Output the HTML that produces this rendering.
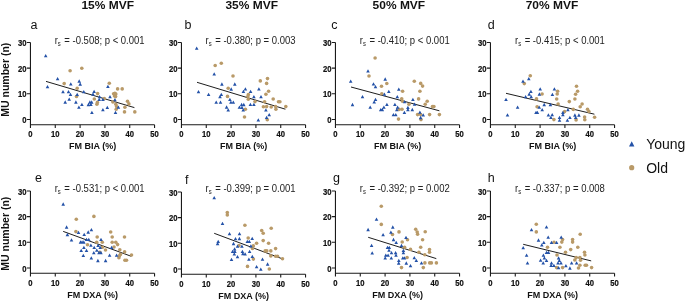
<!DOCTYPE html>
<html><head><meta charset="utf-8"><style>
html,body{margin:0;padding:0;background:#fff;}
body{width:685px;height:301px;overflow:hidden;}
svg{display:block;filter:blur(0.25px);}
text{font-family:"Liberation Sans",sans-serif;}
.b{font-weight:bold;}
</style></head><body>
<svg width="685" height="301" viewBox="0 0 685 301">
<rect width="685" height="301" fill="#fff"/>

<text transform="translate(81.40 9.2) scale(1.11 1)" font-size="10.8" class="b" fill="#111">15% MVF</text>
<text transform="translate(225.40 9.2) scale(1.11 1)" font-size="10.8" class="b" fill="#111">35% MVF</text>
<text transform="translate(372.60 9.2) scale(1.11 1)" font-size="10.8" class="b" fill="#111">50% MVF</text>
<text transform="translate(525.70 9.2) scale(1.11 1)" font-size="10.8" class="b" fill="#111">70% MVF</text>
<text transform="translate(9.3 79.7) rotate(-90) scale(0.905 1)" text-anchor="middle" font-size="11.6" class="b" fill="#111">MU number (n)</text>
<text transform="translate(9.3 233.7) rotate(-90) scale(0.905 1)" text-anchor="middle" font-size="11.6" class="b" fill="#111">MU number (n)</text>
<path d="M30.45 42.45V128.0M30.45 124.7H154.55" stroke="#1a1a1a" stroke-width="1.1" fill="none"/>
<path d="M26.85 42.45H30.45M26.85 68.13H30.45M26.85 93.81H30.45M26.85 119.49H30.45M55.27 124.7V128.00M80.09 124.7V128.00M104.91 124.7V128.00M129.73 124.7V128.00M154.55 124.7V128.00" stroke="#1a1a1a" stroke-width="1.1" fill="none"/>
<text transform="translate(26.55 46.05) scale(0.91 1)" font-size="8.4" class="b" stroke="#111" stroke-width="0.2" text-anchor="end" fill="#111">30</text>
<text transform="translate(26.55 71.73) scale(0.91 1)" font-size="8.4" class="b" stroke="#111" stroke-width="0.2" text-anchor="end" fill="#111">20</text>
<text transform="translate(26.55 97.41) scale(0.91 1)" font-size="8.4" class="b" stroke="#111" stroke-width="0.2" text-anchor="end" fill="#111">10</text>
<text transform="translate(26.55 123.09) scale(0.91 1)" font-size="8.4" class="b" stroke="#111" stroke-width="0.2" text-anchor="end" fill="#111">0</text>
<text transform="translate(30.45 137.00) scale(0.91 1)" font-size="8.4" class="b" stroke="#111" stroke-width="0.2" text-anchor="middle" fill="#111">0</text>
<text transform="translate(55.27 137.00) scale(0.91 1)" font-size="8.4" class="b" stroke="#111" stroke-width="0.2" text-anchor="middle" fill="#111">10</text>
<text transform="translate(80.09 137.00) scale(0.91 1)" font-size="8.4" class="b" stroke="#111" stroke-width="0.2" text-anchor="middle" fill="#111">20</text>
<text transform="translate(104.91 137.00) scale(0.91 1)" font-size="8.4" class="b" stroke="#111" stroke-width="0.2" text-anchor="middle" fill="#111">30</text>
<text transform="translate(129.73 137.00) scale(0.91 1)" font-size="8.4" class="b" stroke="#111" stroke-width="0.2" text-anchor="middle" fill="#111">40</text>
<text transform="translate(154.55 137.00) scale(0.91 1)" font-size="8.4" class="b" stroke="#111" stroke-width="0.2" text-anchor="middle" fill="#111">50</text>
<text x="92.65" y="149.30" font-size="9" class="b" text-anchor="middle" fill="#111">FM BIA (%)</text>
<text transform="translate(54.70 43.60) scale(0.906 1)" font-size="10.5" fill="#222">r<tspan font-size="6.5" dy="2.0">s</tspan><tspan dx="1.0" dy="-2.0"> = -0.508; p &lt; 0.001</tspan></text>
<text x="30.60" y="29.00" font-size="12.5" fill="#111">a</text>
<path d="M46.0 81.4L134.4 107.6" stroke="#111" stroke-width="0.95"/>
<circle cx="70.1" cy="70.7" r="1.8" fill="#b99a68"/>
<circle cx="81.8" cy="68.3" r="1.8" fill="#b99a68"/>
<circle cx="64.2" cy="83.6" r="1.8" fill="#b99a68"/>
<circle cx="77.2" cy="88.3" r="1.8" fill="#b99a68"/>
<circle cx="76.5" cy="96.5" r="1.8" fill="#b99a68"/>
<circle cx="94.3" cy="99.0" r="1.8" fill="#b99a68"/>
<circle cx="97.6" cy="93.6" r="1.8" fill="#b99a68"/>
<circle cx="97.4" cy="102.4" r="1.8" fill="#b99a68"/>
<circle cx="96.9" cy="104.3" r="1.8" fill="#b99a68"/>
<circle cx="104.3" cy="98.6" r="1.8" fill="#b99a68"/>
<circle cx="109.3" cy="83.3" r="1.8" fill="#b99a68"/>
<circle cx="117.6" cy="88.9" r="1.8" fill="#b99a68"/>
<circle cx="122.2" cy="88.9" r="1.8" fill="#b99a68"/>
<circle cx="113.6" cy="93.7" r="1.8" fill="#b99a68"/>
<circle cx="114.9" cy="93.3" r="1.8" fill="#b99a68"/>
<circle cx="115.8" cy="94.0" r="1.8" fill="#b99a68"/>
<circle cx="114.5" cy="96.0" r="1.8" fill="#b99a68"/>
<circle cx="115.6" cy="96.6" r="1.8" fill="#b99a68"/>
<circle cx="112.9" cy="101.9" r="1.8" fill="#b99a68"/>
<circle cx="127.5" cy="101.3" r="1.8" fill="#b99a68"/>
<circle cx="128.9" cy="103.9" r="1.8" fill="#b99a68"/>
<circle cx="115.8" cy="104.3" r="1.8" fill="#b99a68"/>
<circle cx="116.6" cy="106.6" r="1.8" fill="#b99a68"/>
<circle cx="124.9" cy="107.3" r="1.8" fill="#b99a68"/>
<circle cx="116.2" cy="109.2" r="1.8" fill="#b99a68"/>
<circle cx="124.5" cy="111.9" r="1.8" fill="#b99a68"/>
<circle cx="134.8" cy="111.9" r="1.8" fill="#b99a68"/>
<path d="M43.90 57.25L45.70 53.95L47.50 57.25ZM55.80 80.35L57.60 77.05L59.40 80.35ZM77.40 82.65L79.20 79.35L81.00 82.65ZM78.40 85.65L80.20 82.35L82.00 85.65ZM69.00 85.55L70.80 82.25L72.60 85.55ZM45.70 88.35L47.50 85.05L49.30 88.35ZM61.20 93.25L63.00 89.95L64.80 93.25ZM66.70 93.25L68.50 89.95L70.30 93.25ZM68.70 95.95L70.50 92.65L72.30 95.95ZM75.40 95.95L77.20 92.65L79.00 95.95ZM82.00 93.25L83.80 89.95L85.60 93.25ZM67.40 100.85L69.20 97.55L71.00 100.85ZM63.40 103.65L65.20 100.35L67.00 103.65ZM74.10 103.65L75.90 100.35L77.70 103.65ZM80.10 105.95L81.90 102.65L83.70 105.95ZM77.10 108.85L78.90 105.55L80.70 108.85ZM86.60 106.15L88.40 102.85L90.20 106.15ZM88.10 103.65L89.90 100.35L91.70 103.65ZM89.90 103.65L91.70 100.35L93.50 103.65ZM89.10 105.95L90.90 102.65L92.70 105.95ZM90.10 113.95L91.90 110.65L93.70 113.95ZM92.30 93.05L94.10 89.75L95.90 93.05ZM91.20 95.65L93.00 92.35L94.80 95.65ZM97.80 98.25L99.60 94.95L101.40 98.25ZM108.20 98.25L110.00 94.95L111.80 98.25ZM97.40 100.95L99.20 97.65L101.00 100.95ZM101.10 101.05L102.90 97.75L104.70 101.05ZM113.10 101.25L114.90 97.95L116.70 101.25ZM106.10 88.05L107.90 84.75L109.70 88.05ZM105.50 108.95L107.30 105.65L109.10 108.95ZM101.10 111.25L102.90 107.95L104.70 111.25ZM116.60 108.85L118.40 105.55L120.20 108.85ZM113.70 113.95L115.50 110.65L117.30 113.95Z" fill="#2452a8"/>
<path d="M181.45 42.45V128.0M181.45 124.7H305.55" stroke="#1a1a1a" stroke-width="1.1" fill="none"/>
<path d="M177.85 42.45H181.45M177.85 68.13H181.45M177.85 93.81H181.45M177.85 119.49H181.45M206.27 124.7V128.00M231.09 124.7V128.00M255.91 124.7V128.00M280.73 124.7V128.00M305.55 124.7V128.00" stroke="#1a1a1a" stroke-width="1.1" fill="none"/>
<text transform="translate(177.55 46.05) scale(0.91 1)" font-size="8.4" class="b" stroke="#111" stroke-width="0.2" text-anchor="end" fill="#111">30</text>
<text transform="translate(177.55 71.73) scale(0.91 1)" font-size="8.4" class="b" stroke="#111" stroke-width="0.2" text-anchor="end" fill="#111">20</text>
<text transform="translate(177.55 97.41) scale(0.91 1)" font-size="8.4" class="b" stroke="#111" stroke-width="0.2" text-anchor="end" fill="#111">10</text>
<text transform="translate(177.55 123.09) scale(0.91 1)" font-size="8.4" class="b" stroke="#111" stroke-width="0.2" text-anchor="end" fill="#111">0</text>
<text transform="translate(181.45 137.00) scale(0.91 1)" font-size="8.4" class="b" stroke="#111" stroke-width="0.2" text-anchor="middle" fill="#111">0</text>
<text transform="translate(206.27 137.00) scale(0.91 1)" font-size="8.4" class="b" stroke="#111" stroke-width="0.2" text-anchor="middle" fill="#111">10</text>
<text transform="translate(231.09 137.00) scale(0.91 1)" font-size="8.4" class="b" stroke="#111" stroke-width="0.2" text-anchor="middle" fill="#111">20</text>
<text transform="translate(255.91 137.00) scale(0.91 1)" font-size="8.4" class="b" stroke="#111" stroke-width="0.2" text-anchor="middle" fill="#111">30</text>
<text transform="translate(280.73 137.00) scale(0.91 1)" font-size="8.4" class="b" stroke="#111" stroke-width="0.2" text-anchor="middle" fill="#111">40</text>
<text transform="translate(305.55 137.00) scale(0.91 1)" font-size="8.4" class="b" stroke="#111" stroke-width="0.2" text-anchor="middle" fill="#111">50</text>
<text x="243.65" y="149.30" font-size="9" class="b" text-anchor="middle" fill="#111">FM BIA (%)</text>
<text transform="translate(205.60 43.60) scale(0.906 1)" font-size="10.5" fill="#222">r<tspan font-size="6.5" dy="2.0">s</tspan><tspan dx="1.0" dy="-2.0"> = -0.380; p = 0.003</tspan></text>
<text x="184.60" y="29.00" font-size="12.5" fill="#111">b</text>
<path d="M197.0 82.3L285.4 109.2" stroke="#111" stroke-width="0.95"/>
<circle cx="215.2" cy="65.5" r="1.8" fill="#b99a68"/>
<circle cx="221.3" cy="63.3" r="1.8" fill="#b99a68"/>
<circle cx="233.0" cy="76.0" r="1.8" fill="#b99a68"/>
<circle cx="228.2" cy="88.3" r="1.8" fill="#b99a68"/>
<circle cx="227.5" cy="96.4" r="1.8" fill="#b99a68"/>
<circle cx="245.4" cy="109.3" r="1.8" fill="#b99a68"/>
<circle cx="244.5" cy="117.0" r="1.8" fill="#b99a68"/>
<circle cx="260.3" cy="80.9" r="1.8" fill="#b99a68"/>
<circle cx="267.5" cy="78.6" r="1.8" fill="#b99a68"/>
<circle cx="266.6" cy="83.4" r="1.8" fill="#b99a68"/>
<circle cx="268.6" cy="91.3" r="1.8" fill="#b99a68"/>
<circle cx="265.9" cy="94.2" r="1.8" fill="#b99a68"/>
<circle cx="248.4" cy="94.6" r="1.8" fill="#b99a68"/>
<circle cx="247.8" cy="96.6" r="1.8" fill="#b99a68"/>
<circle cx="248.3" cy="99.2" r="1.8" fill="#b99a68"/>
<circle cx="273.2" cy="99.0" r="1.8" fill="#b99a68"/>
<circle cx="255.0" cy="101.6" r="1.8" fill="#b99a68"/>
<circle cx="264.6" cy="101.7" r="1.8" fill="#b99a68"/>
<circle cx="278.5" cy="101.7" r="1.8" fill="#b99a68"/>
<circle cx="279.9" cy="101.7" r="1.8" fill="#b99a68"/>
<circle cx="263.4" cy="106.7" r="1.8" fill="#b99a68"/>
<circle cx="266.6" cy="106.6" r="1.8" fill="#b99a68"/>
<circle cx="271.2" cy="107.0" r="1.8" fill="#b99a68"/>
<circle cx="275.6" cy="106.6" r="1.8" fill="#b99a68"/>
<circle cx="275.9" cy="109.2" r="1.8" fill="#b99a68"/>
<circle cx="285.8" cy="106.6" r="1.8" fill="#b99a68"/>
<circle cx="267.3" cy="119.8" r="1.8" fill="#b99a68"/>
<path d="M194.90 49.85L196.70 46.55L198.50 49.85ZM212.40 75.55L214.20 72.25L216.00 75.55ZM220.10 85.65L221.90 82.35L223.70 85.65ZM233.00 85.65L234.80 82.35L236.60 85.65ZM229.40 90.65L231.20 87.35L233.00 90.65ZM196.70 93.25L198.50 89.95L200.30 93.25ZM206.80 95.95L208.60 92.65L210.40 95.95ZM219.50 95.95L221.30 92.65L223.10 95.95ZM218.20 98.15L220.00 94.85L221.80 98.15ZM228.10 101.05L229.90 97.75L231.70 101.05ZM214.40 103.75L216.20 100.45L218.00 103.75ZM218.70 103.75L220.50 100.45L222.30 103.75ZM229.10 103.75L230.90 100.45L232.70 103.75ZM231.50 103.75L233.30 100.45L235.10 103.75ZM224.80 108.65L226.60 105.35L228.40 108.65ZM226.40 111.55L228.20 108.25L230.00 111.55ZM239.80 106.15L241.60 102.85L243.40 106.15ZM242.00 106.15L243.80 102.85L245.60 106.15ZM237.60 108.75L239.40 105.45L241.20 108.75ZM240.20 108.95L242.00 105.65L243.80 108.95ZM241.40 111.45L243.20 108.15L245.00 111.45ZM243.60 90.55L245.40 87.25L247.20 90.55ZM241.60 93.05L243.40 89.75L245.20 93.05ZM248.80 92.95L250.60 89.65L252.40 92.95ZM257.10 90.55L258.90 87.25L260.70 90.55ZM252.10 98.25L253.90 94.95L255.70 98.25ZM259.20 98.25L261.00 94.95L262.80 98.25ZM248.60 106.05L250.40 102.75L252.20 106.05ZM252.10 106.05L253.90 102.75L255.70 106.05ZM264.10 111.55L265.90 108.25L267.70 111.55ZM267.40 116.25L269.20 112.95L271.00 116.25ZM264.80 119.05L266.60 115.75L268.40 119.05ZM256.50 121.45L258.30 118.15L260.10 121.45Z" fill="#2452a8"/>
<path d="M335.45 42.45V128.0M335.45 124.7H459.55" stroke="#1a1a1a" stroke-width="1.1" fill="none"/>
<path d="M331.85 42.45H335.45M331.85 68.13H335.45M331.85 93.81H335.45M331.85 119.49H335.45M360.27 124.7V128.00M385.09 124.7V128.00M409.91 124.7V128.00M434.73 124.7V128.00M459.55 124.7V128.00" stroke="#1a1a1a" stroke-width="1.1" fill="none"/>
<text transform="translate(331.55 46.05) scale(0.91 1)" font-size="8.4" class="b" stroke="#111" stroke-width="0.2" text-anchor="end" fill="#111">30</text>
<text transform="translate(331.55 71.73) scale(0.91 1)" font-size="8.4" class="b" stroke="#111" stroke-width="0.2" text-anchor="end" fill="#111">20</text>
<text transform="translate(331.55 97.41) scale(0.91 1)" font-size="8.4" class="b" stroke="#111" stroke-width="0.2" text-anchor="end" fill="#111">10</text>
<text transform="translate(331.55 123.09) scale(0.91 1)" font-size="8.4" class="b" stroke="#111" stroke-width="0.2" text-anchor="end" fill="#111">0</text>
<text transform="translate(335.45 137.00) scale(0.91 1)" font-size="8.4" class="b" stroke="#111" stroke-width="0.2" text-anchor="middle" fill="#111">0</text>
<text transform="translate(360.27 137.00) scale(0.91 1)" font-size="8.4" class="b" stroke="#111" stroke-width="0.2" text-anchor="middle" fill="#111">10</text>
<text transform="translate(385.09 137.00) scale(0.91 1)" font-size="8.4" class="b" stroke="#111" stroke-width="0.2" text-anchor="middle" fill="#111">20</text>
<text transform="translate(409.91 137.00) scale(0.91 1)" font-size="8.4" class="b" stroke="#111" stroke-width="0.2" text-anchor="middle" fill="#111">30</text>
<text transform="translate(434.73 137.00) scale(0.91 1)" font-size="8.4" class="b" stroke="#111" stroke-width="0.2" text-anchor="middle" fill="#111">40</text>
<text transform="translate(459.55 137.00) scale(0.91 1)" font-size="8.4" class="b" stroke="#111" stroke-width="0.2" text-anchor="middle" fill="#111">50</text>
<text x="397.65" y="149.30" font-size="9" class="b" text-anchor="middle" fill="#111">FM BIA (%)</text>
<text transform="translate(359.80 43.60) scale(0.906 1)" font-size="10.5" fill="#222">r<tspan font-size="6.5" dy="2.0">s</tspan><tspan dx="1.0" dy="-2.0"> = -0.410; p &lt; 0.001</tspan></text>
<text x="331.30" y="28.80" font-size="12.5" fill="#111">c</text>
<path d="M351.0 87.0L439.4 110.8" stroke="#111" stroke-width="0.95"/>
<circle cx="375.1" cy="58.0" r="1.8" fill="#b99a68"/>
<circle cx="369.0" cy="76.0" r="1.8" fill="#b99a68"/>
<circle cx="386.8" cy="83.5" r="1.8" fill="#b99a68"/>
<circle cx="381.5" cy="86.2" r="1.8" fill="#b99a68"/>
<circle cx="381.8" cy="93.7" r="1.8" fill="#b99a68"/>
<circle cx="399.1" cy="109.4" r="1.8" fill="#b99a68"/>
<circle cx="414.3" cy="81.2" r="1.8" fill="#b99a68"/>
<circle cx="420.7" cy="83.4" r="1.8" fill="#b99a68"/>
<circle cx="422.6" cy="86.1" r="1.8" fill="#b99a68"/>
<circle cx="402.6" cy="91.3" r="1.8" fill="#b99a68"/>
<circle cx="419.9" cy="91.3" r="1.8" fill="#b99a68"/>
<circle cx="401.7" cy="98.8" r="1.8" fill="#b99a68"/>
<circle cx="402.5" cy="101.2" r="1.8" fill="#b99a68"/>
<circle cx="418.6" cy="98.9" r="1.8" fill="#b99a68"/>
<circle cx="427.2" cy="101.3" r="1.8" fill="#b99a68"/>
<circle cx="425.2" cy="104.2" r="1.8" fill="#b99a68"/>
<circle cx="408.9" cy="104.2" r="1.8" fill="#b99a68"/>
<circle cx="402.0" cy="109.2" r="1.8" fill="#b99a68"/>
<circle cx="432.5" cy="106.6" r="1.8" fill="#b99a68"/>
<circle cx="433.9" cy="106.6" r="1.8" fill="#b99a68"/>
<circle cx="417.6" cy="114.6" r="1.8" fill="#b99a68"/>
<circle cx="429.6" cy="114.6" r="1.8" fill="#b99a68"/>
<circle cx="439.4" cy="114.6" r="1.8" fill="#b99a68"/>
<circle cx="398.5" cy="119.1" r="1.8" fill="#b99a68"/>
<circle cx="420.6" cy="114.6" r="1.8" fill="#b99a68"/>
<circle cx="421.0" cy="119.6" r="1.8" fill="#b99a68"/>
<path d="M366.20 72.55L368.00 69.25L369.80 72.55ZM383.40 80.65L385.20 77.35L387.00 80.65ZM348.90 82.85L350.70 79.55L352.50 82.85ZM371.70 85.55L373.50 82.25L375.30 85.55ZM373.70 88.25L375.50 84.95L377.30 88.25ZM387.00 92.95L388.80 89.65L390.60 92.95ZM397.00 90.85L398.80 87.55L400.60 90.85ZM382.60 95.85L384.40 92.55L386.20 95.85ZM360.70 98.35L362.50 95.05L364.30 98.35ZM373.70 100.95L375.50 97.65L377.30 100.95ZM372.40 103.55L374.20 100.25L376.00 103.55ZM395.50 98.25L397.30 94.95L399.10 98.25ZM350.70 106.15L352.50 102.85L354.30 106.15ZM368.40 108.75L370.20 105.45L372.00 108.75ZM385.10 106.05L386.90 102.75L388.70 106.05ZM382.10 108.75L383.90 105.45L385.70 108.75ZM378.90 111.35L380.70 108.05L382.50 111.35ZM380.50 111.15L382.30 107.85L384.10 111.15ZM393.10 106.05L394.90 102.75L396.70 106.05ZM395.80 108.85L397.60 105.55L399.40 108.85ZM395.00 111.35L396.80 108.05L398.60 111.35ZM391.60 116.35L393.40 113.05L395.20 116.35ZM394.00 116.35L395.80 113.05L397.60 116.35ZM402.80 103.35L404.60 100.05L406.40 103.35ZM411.10 100.95L412.90 97.65L414.70 100.95ZM412.80 105.85L414.60 102.55L416.40 105.85ZM402.60 113.95L404.40 110.65L406.20 113.95ZM406.10 108.95L407.90 105.65L409.70 108.95ZM406.10 111.15L407.90 107.85L409.70 111.15ZM410.50 111.15L412.30 107.85L414.10 111.15ZM418.10 113.85L419.90 110.55L421.70 113.85ZM421.40 116.45L423.20 113.15L425.00 116.45ZM418.80 119.15L420.60 115.85L422.40 119.15Z" fill="#2452a8"/>
<path d="M490.45 42.45V128.0M490.45 124.7H614.55" stroke="#1a1a1a" stroke-width="1.1" fill="none"/>
<path d="M486.85 42.45H490.45M486.85 68.13H490.45M486.85 93.81H490.45M486.85 119.49H490.45M515.27 124.7V128.00M540.09 124.7V128.00M564.91 124.7V128.00M589.73 124.7V128.00M614.55 124.7V128.00" stroke="#1a1a1a" stroke-width="1.1" fill="none"/>
<text transform="translate(486.55 46.05) scale(0.91 1)" font-size="8.4" class="b" stroke="#111" stroke-width="0.2" text-anchor="end" fill="#111">30</text>
<text transform="translate(486.55 71.73) scale(0.91 1)" font-size="8.4" class="b" stroke="#111" stroke-width="0.2" text-anchor="end" fill="#111">20</text>
<text transform="translate(486.55 97.41) scale(0.91 1)" font-size="8.4" class="b" stroke="#111" stroke-width="0.2" text-anchor="end" fill="#111">10</text>
<text transform="translate(486.55 123.09) scale(0.91 1)" font-size="8.4" class="b" stroke="#111" stroke-width="0.2" text-anchor="end" fill="#111">0</text>
<text transform="translate(490.45 137.00) scale(0.91 1)" font-size="8.4" class="b" stroke="#111" stroke-width="0.2" text-anchor="middle" fill="#111">0</text>
<text transform="translate(515.27 137.00) scale(0.91 1)" font-size="8.4" class="b" stroke="#111" stroke-width="0.2" text-anchor="middle" fill="#111">10</text>
<text transform="translate(540.09 137.00) scale(0.91 1)" font-size="8.4" class="b" stroke="#111" stroke-width="0.2" text-anchor="middle" fill="#111">20</text>
<text transform="translate(564.91 137.00) scale(0.91 1)" font-size="8.4" class="b" stroke="#111" stroke-width="0.2" text-anchor="middle" fill="#111">30</text>
<text transform="translate(589.73 137.00) scale(0.91 1)" font-size="8.4" class="b" stroke="#111" stroke-width="0.2" text-anchor="middle" fill="#111">40</text>
<text transform="translate(614.55 137.00) scale(0.91 1)" font-size="8.4" class="b" stroke="#111" stroke-width="0.2" text-anchor="middle" fill="#111">50</text>
<text x="552.65" y="149.30" font-size="9" class="b" text-anchor="middle" fill="#111">FM BIA (%)</text>
<text transform="translate(515.00 43.60) scale(0.906 1)" font-size="10.5" fill="#222">r<tspan font-size="6.5" dy="2.0">s</tspan><tspan dx="1.0" dy="-2.0"> = -0.415; p &lt; 0.001</tspan></text>
<text x="487.80" y="29.00" font-size="12.5" fill="#111">d</text>
<path d="M506.0 93.3L594.4 114.2" stroke="#111" stroke-width="0.95"/>
<circle cx="530.3" cy="75.7" r="1.8" fill="#b99a68"/>
<circle cx="524.3" cy="83.6" r="1.8" fill="#b99a68"/>
<circle cx="542.1" cy="94.0" r="1.8" fill="#b99a68"/>
<circle cx="536.5" cy="98.9" r="1.8" fill="#b99a68"/>
<circle cx="537.1" cy="106.7" r="1.8" fill="#b99a68"/>
<circle cx="576.5" cy="86.2" r="1.8" fill="#b99a68"/>
<circle cx="557.6" cy="91.3" r="1.8" fill="#b99a68"/>
<circle cx="557.2" cy="94.0" r="1.8" fill="#b99a68"/>
<circle cx="577.6" cy="91.3" r="1.8" fill="#b99a68"/>
<circle cx="575.6" cy="94.2" r="1.8" fill="#b99a68"/>
<circle cx="574.9" cy="99.0" r="1.8" fill="#b99a68"/>
<circle cx="556.7" cy="99.0" r="1.8" fill="#b99a68"/>
<circle cx="569.3" cy="101.6" r="1.8" fill="#b99a68"/>
<circle cx="558.1" cy="104.0" r="1.8" fill="#b99a68"/>
<circle cx="582.1" cy="104.0" r="1.8" fill="#b99a68"/>
<circle cx="580.2" cy="106.7" r="1.8" fill="#b99a68"/>
<circle cx="573.3" cy="109.4" r="1.8" fill="#b99a68"/>
<circle cx="587.5" cy="109.3" r="1.8" fill="#b99a68"/>
<circle cx="588.9" cy="111.5" r="1.8" fill="#b99a68"/>
<circle cx="564.6" cy="111.6" r="1.8" fill="#b99a68"/>
<circle cx="553.9" cy="119.6" r="1.8" fill="#b99a68"/>
<circle cx="576.1" cy="119.9" r="1.8" fill="#b99a68"/>
<circle cx="584.6" cy="117.1" r="1.8" fill="#b99a68"/>
<circle cx="584.8" cy="119.8" r="1.8" fill="#b99a68"/>
<circle cx="594.6" cy="117.3" r="1.8" fill="#b99a68"/>
<path d="M527.00 80.25L528.80 76.95L530.60 80.25ZM521.20 82.85L523.00 79.55L524.80 82.85ZM538.40 90.55L540.20 87.25L542.00 90.55ZM552.60 90.55L554.40 87.25L556.20 90.55ZM529.10 92.95L530.90 89.65L532.70 92.95ZM527.40 95.65L529.20 92.35L531.00 95.65ZM529.40 98.25L531.20 94.95L533.00 98.25ZM523.80 98.25L525.60 94.95L527.40 98.25ZM537.60 95.65L539.40 92.35L541.20 95.65ZM550.60 95.95L552.40 92.65L554.20 95.95ZM504.20 100.95L506.00 97.65L507.80 100.95ZM542.40 106.15L544.20 102.85L546.00 106.15ZM548.60 106.15L550.40 102.85L552.20 106.15ZM515.80 108.85L517.60 105.55L519.40 108.85ZM537.40 108.75L539.20 105.45L541.00 108.75ZM540.40 111.35L542.20 108.05L544.00 111.35ZM534.20 114.05L536.00 110.75L537.80 114.05ZM535.60 114.05L537.40 110.75L539.20 114.05ZM505.70 116.45L507.50 113.15L509.30 116.45ZM546.60 116.55L548.40 113.25L550.20 116.55ZM550.40 116.35L552.20 113.05L554.00 116.35ZM549.10 119.05L550.90 115.75L552.70 119.05ZM561.10 114.05L562.90 110.75L564.70 114.05ZM561.10 116.35L562.90 113.05L564.70 116.35ZM566.10 111.35L567.90 108.05L569.70 111.35ZM568.10 119.05L569.90 115.75L571.70 119.05ZM565.60 121.85L567.40 118.55L569.20 121.85ZM557.70 118.95L559.50 115.65L561.30 118.95ZM557.70 121.85L559.50 118.55L561.30 121.85ZM573.10 116.65L574.90 113.35L576.70 116.65ZM577.10 116.65L578.90 113.35L580.70 116.65ZM573.90 119.05L575.70 115.75L577.50 119.05Z" fill="#2452a8"/>
<path d="M30.45 190.95V276.5M30.45 273.2H154.55" stroke="#1a1a1a" stroke-width="1.1" fill="none"/>
<path d="M26.85 190.95H30.45M26.85 216.63H30.45M26.85 242.31H30.45M26.85 267.99H30.45M55.27 273.2V276.50M80.09 273.2V276.50M104.91 273.2V276.50M129.73 273.2V276.50M154.55 273.2V276.50" stroke="#1a1a1a" stroke-width="1.1" fill="none"/>
<text transform="translate(26.55 194.55) scale(0.91 1)" font-size="8.4" class="b" stroke="#111" stroke-width="0.2" text-anchor="end" fill="#111">30</text>
<text transform="translate(26.55 220.23) scale(0.91 1)" font-size="8.4" class="b" stroke="#111" stroke-width="0.2" text-anchor="end" fill="#111">20</text>
<text transform="translate(26.55 245.91) scale(0.91 1)" font-size="8.4" class="b" stroke="#111" stroke-width="0.2" text-anchor="end" fill="#111">10</text>
<text transform="translate(26.55 271.59) scale(0.91 1)" font-size="8.4" class="b" stroke="#111" stroke-width="0.2" text-anchor="end" fill="#111">0</text>
<text transform="translate(30.45 285.50) scale(0.91 1)" font-size="8.4" class="b" stroke="#111" stroke-width="0.2" text-anchor="middle" fill="#111">0</text>
<text transform="translate(55.27 285.50) scale(0.91 1)" font-size="8.4" class="b" stroke="#111" stroke-width="0.2" text-anchor="middle" fill="#111">10</text>
<text transform="translate(80.09 285.50) scale(0.91 1)" font-size="8.4" class="b" stroke="#111" stroke-width="0.2" text-anchor="middle" fill="#111">20</text>
<text transform="translate(104.91 285.50) scale(0.91 1)" font-size="8.4" class="b" stroke="#111" stroke-width="0.2" text-anchor="middle" fill="#111">30</text>
<text transform="translate(129.73 285.50) scale(0.91 1)" font-size="8.4" class="b" stroke="#111" stroke-width="0.2" text-anchor="middle" fill="#111">40</text>
<text transform="translate(154.55 285.50) scale(0.91 1)" font-size="8.4" class="b" stroke="#111" stroke-width="0.2" text-anchor="middle" fill="#111">50</text>
<text x="92.65" y="297.80" font-size="9" class="b" text-anchor="middle" fill="#111">FM DXA (%)</text>
<text transform="translate(54.70 191.80) scale(0.906 1)" font-size="10.5" fill="#222">r<tspan font-size="6.5" dy="2.0">s</tspan><tspan dx="1.0" dy="-2.0"> = -0.531; p &lt; 0.001</tspan></text>
<text x="34.90" y="182.00" font-size="12.5" fill="#111">e</text>
<path d="M63.2 231.4L131.3 256.3" stroke="#111" stroke-width="0.95"/>
<circle cx="76.3" cy="219.2" r="1.8" fill="#b99a68"/>
<circle cx="93.9" cy="216.4" r="1.8" fill="#b99a68"/>
<circle cx="75.9" cy="231.6" r="1.8" fill="#b99a68"/>
<circle cx="87.5" cy="244.7" r="1.8" fill="#b99a68"/>
<circle cx="110.7" cy="232.0" r="1.8" fill="#b99a68"/>
<circle cx="97.2" cy="237.0" r="1.8" fill="#b99a68"/>
<circle cx="112.2" cy="237.0" r="1.8" fill="#b99a68"/>
<circle cx="124.5" cy="237.0" r="1.8" fill="#b99a68"/>
<circle cx="96.7" cy="242.2" r="1.8" fill="#b99a68"/>
<circle cx="102.3" cy="242.2" r="1.8" fill="#b99a68"/>
<circle cx="112.2" cy="242.2" r="1.8" fill="#b99a68"/>
<circle cx="115.8" cy="242.2" r="1.8" fill="#b99a68"/>
<circle cx="117.6" cy="244.6" r="1.8" fill="#b99a68"/>
<circle cx="102.5" cy="247.2" r="1.8" fill="#b99a68"/>
<circle cx="114.0" cy="247.0" r="1.8" fill="#b99a68"/>
<circle cx="105.5" cy="250.0" r="1.8" fill="#b99a68"/>
<circle cx="119.8" cy="249.7" r="1.8" fill="#b99a68"/>
<circle cx="124.6" cy="251.9" r="1.8" fill="#b99a68"/>
<circle cx="99.8" cy="252.2" r="1.8" fill="#b99a68"/>
<circle cx="120.4" cy="254.4" r="1.8" fill="#b99a68"/>
<circle cx="119.5" cy="255.8" r="1.8" fill="#b99a68"/>
<circle cx="131.5" cy="255.0" r="1.8" fill="#b99a68"/>
<circle cx="118.9" cy="257.7" r="1.8" fill="#b99a68"/>
<circle cx="124.9" cy="260.2" r="1.8" fill="#b99a68"/>
<circle cx="126.5" cy="260.3" r="1.8" fill="#b99a68"/>
<path d="M61.40 205.65L63.20 202.35L65.00 205.65ZM64.80 228.65L66.60 225.35L68.40 228.65ZM76.70 234.05L78.50 230.75L80.30 234.05ZM86.40 233.65L88.20 230.35L90.00 233.65ZM89.60 231.25L91.40 227.95L93.20 231.25ZM82.40 236.05L84.20 232.75L86.00 236.05ZM65.60 236.15L67.40 232.85L69.20 236.15ZM69.70 241.55L71.50 238.25L73.30 241.55ZM78.70 243.65L80.50 240.35L82.30 243.65ZM80.30 243.65L82.10 240.35L83.90 243.65ZM82.00 243.65L83.80 240.35L85.60 243.65ZM84.70 241.05L86.50 237.75L88.30 241.05ZM87.00 241.05L88.80 237.75L90.60 241.05ZM89.10 246.85L90.90 243.55L92.70 246.85ZM82.10 249.05L83.90 245.75L85.70 249.05ZM79.40 251.95L81.20 248.65L83.00 251.95ZM84.70 251.95L86.50 248.65L88.30 251.95ZM81.50 256.95L83.30 253.65L85.10 256.95ZM89.50 259.45L91.30 256.15L93.10 259.45ZM99.20 241.05L101.00 237.75L102.80 241.05ZM92.40 249.05L94.20 245.75L96.00 249.05ZM96.30 247.05L98.10 243.75L99.90 247.05ZM98.40 249.05L100.20 245.75L102.00 249.05ZM95.00 251.85L96.80 248.55L98.60 251.85ZM92.00 254.35L93.80 251.05L95.60 254.35ZM97.20 254.15L99.00 250.85L100.80 254.15ZM99.10 254.15L100.90 250.85L102.70 254.15ZM96.10 262.15L97.90 258.85L99.70 262.15ZM103.80 262.15L105.60 258.85L107.40 262.15ZM107.80 256.85L109.60 253.55L111.40 256.85ZM114.80 256.85L116.60 253.55L118.40 256.85ZM109.80 249.05L111.60 245.75L113.40 249.05Z" fill="#2452a8"/>
<path d="M181.45 191.95V277.5M181.45 274.2H305.55" stroke="#1a1a1a" stroke-width="1.1" fill="none"/>
<path d="M177.85 191.95H181.45M177.85 217.63H181.45M177.85 243.31H181.45M177.85 268.99H181.45M206.27 274.2V277.50M231.09 274.2V277.50M255.91 274.2V277.50M280.73 274.2V277.50M305.55 274.2V277.50" stroke="#1a1a1a" stroke-width="1.1" fill="none"/>
<text transform="translate(177.55 195.55) scale(0.91 1)" font-size="8.4" class="b" stroke="#111" stroke-width="0.2" text-anchor="end" fill="#111">30</text>
<text transform="translate(177.55 221.23) scale(0.91 1)" font-size="8.4" class="b" stroke="#111" stroke-width="0.2" text-anchor="end" fill="#111">20</text>
<text transform="translate(177.55 246.91) scale(0.91 1)" font-size="8.4" class="b" stroke="#111" stroke-width="0.2" text-anchor="end" fill="#111">10</text>
<text transform="translate(177.55 272.59) scale(0.91 1)" font-size="8.4" class="b" stroke="#111" stroke-width="0.2" text-anchor="end" fill="#111">0</text>
<text transform="translate(181.45 286.50) scale(0.91 1)" font-size="8.4" class="b" stroke="#111" stroke-width="0.2" text-anchor="middle" fill="#111">0</text>
<text transform="translate(206.27 286.50) scale(0.91 1)" font-size="8.4" class="b" stroke="#111" stroke-width="0.2" text-anchor="middle" fill="#111">10</text>
<text transform="translate(231.09 286.50) scale(0.91 1)" font-size="8.4" class="b" stroke="#111" stroke-width="0.2" text-anchor="middle" fill="#111">20</text>
<text transform="translate(255.91 286.50) scale(0.91 1)" font-size="8.4" class="b" stroke="#111" stroke-width="0.2" text-anchor="middle" fill="#111">30</text>
<text transform="translate(280.73 286.50) scale(0.91 1)" font-size="8.4" class="b" stroke="#111" stroke-width="0.2" text-anchor="middle" fill="#111">40</text>
<text transform="translate(305.55 286.50) scale(0.91 1)" font-size="8.4" class="b" stroke="#111" stroke-width="0.2" text-anchor="middle" fill="#111">50</text>
<text x="243.65" y="298.80" font-size="9" class="b" text-anchor="middle" fill="#111">FM DXA (%)</text>
<text transform="translate(205.60 191.80) scale(0.906 1)" font-size="10.5" fill="#222">r<tspan font-size="6.5" dy="2.0">s</tspan><tspan dx="1.0" dy="-2.0"> = -0.399; p = 0.001</tspan></text>
<text x="184.90" y="183.60" font-size="12.5" fill="#111">f</text>
<path d="M214.2 233.3L282.3 258.8" stroke="#111" stroke-width="0.95"/>
<circle cx="227.3" cy="212.6" r="1.8" fill="#b99a68"/>
<circle cx="227.3" cy="215.0" r="1.8" fill="#b99a68"/>
<circle cx="244.9" cy="225.3" r="1.8" fill="#b99a68"/>
<circle cx="261.7" cy="230.5" r="1.8" fill="#b99a68"/>
<circle cx="263.2" cy="233.2" r="1.8" fill="#b99a68"/>
<circle cx="271.2" cy="228.2" r="1.8" fill="#b99a68"/>
<circle cx="239.0" cy="245.6" r="1.8" fill="#b99a68"/>
<circle cx="248.2" cy="238.0" r="1.8" fill="#b99a68"/>
<circle cx="263.2" cy="240.6" r="1.8" fill="#b99a68"/>
<circle cx="256.6" cy="243.3" r="1.8" fill="#b99a68"/>
<circle cx="268.6" cy="243.3" r="1.8" fill="#b99a68"/>
<circle cx="253.3" cy="245.9" r="1.8" fill="#b99a68"/>
<circle cx="252.5" cy="248.5" r="1.8" fill="#b99a68"/>
<circle cx="275.6" cy="248.6" r="1.8" fill="#b99a68"/>
<circle cx="265.2" cy="250.9" r="1.8" fill="#b99a68"/>
<circle cx="266.8" cy="250.9" r="1.8" fill="#b99a68"/>
<circle cx="270.8" cy="250.9" r="1.8" fill="#b99a68"/>
<circle cx="270.8" cy="255.9" r="1.8" fill="#b99a68"/>
<circle cx="275.6" cy="256.2" r="1.8" fill="#b99a68"/>
<circle cx="277.5" cy="256.2" r="1.8" fill="#b99a68"/>
<circle cx="282.5" cy="258.8" r="1.8" fill="#b99a68"/>
<circle cx="253.4" cy="259.1" r="1.8" fill="#b99a68"/>
<circle cx="247.5" cy="266.4" r="1.8" fill="#b99a68"/>
<circle cx="269.3" cy="269.0" r="1.8" fill="#b99a68"/>
<path d="M212.40 199.35L214.20 196.05L216.00 199.35ZM220.70 224.95L222.50 221.65L224.30 224.95ZM227.70 235.35L229.50 232.05L231.30 235.35ZM237.70 235.25L239.50 231.95L241.30 235.25ZM233.70 240.25L235.50 236.95L237.30 240.25ZM237.60 240.15L239.40 236.85L241.20 240.15ZM216.40 242.95L218.20 239.65L220.00 242.95ZM215.80 245.15L217.60 241.85L219.40 245.15ZM231.70 245.15L233.50 241.85L235.30 245.15ZM235.70 247.85L237.50 244.55L239.30 247.85ZM240.10 247.85L241.90 244.55L243.70 247.85ZM232.80 250.45L234.60 247.15L236.40 250.45ZM230.80 252.95L232.60 249.65L234.40 252.95ZM233.10 252.95L234.90 249.65L236.70 252.95ZM232.50 255.55L234.30 252.25L236.10 255.55ZM240.60 252.95L242.40 249.65L244.20 252.95ZM241.10 255.35L242.90 252.05L244.70 255.35ZM243.30 255.55L245.10 252.25L246.90 255.55ZM235.70 258.25L237.50 254.95L239.30 258.25ZM229.70 261.05L231.50 257.75L233.30 261.05ZM250.40 240.05L252.20 236.75L254.00 240.05ZM245.50 242.95L247.30 239.65L249.10 242.95ZM247.50 242.95L249.30 239.65L251.10 242.95ZM249.10 247.55L250.90 244.25L252.70 247.55ZM247.80 253.05L249.60 249.75L251.40 253.05ZM250.50 258.05L252.30 254.75L254.10 258.05ZM247.10 260.85L248.90 257.55L250.70 260.85ZM260.70 260.85L262.50 257.55L264.30 260.85ZM265.80 265.65L267.60 262.35L269.40 265.65ZM254.80 268.25L256.60 264.95L258.40 268.25ZM259.00 270.75L260.80 267.45L262.60 270.75Z" fill="#2452a8"/>
<path d="M335.45 190.95V276.5M335.45 273.2H459.55" stroke="#1a1a1a" stroke-width="1.1" fill="none"/>
<path d="M331.85 190.95H335.45M331.85 216.63H335.45M331.85 242.31H335.45M331.85 267.99H335.45M360.27 273.2V276.50M385.09 273.2V276.50M409.91 273.2V276.50M434.73 273.2V276.50M459.55 273.2V276.50" stroke="#1a1a1a" stroke-width="1.1" fill="none"/>
<text transform="translate(331.55 194.55) scale(0.91 1)" font-size="8.4" class="b" stroke="#111" stroke-width="0.2" text-anchor="end" fill="#111">30</text>
<text transform="translate(331.55 220.23) scale(0.91 1)" font-size="8.4" class="b" stroke="#111" stroke-width="0.2" text-anchor="end" fill="#111">20</text>
<text transform="translate(331.55 245.91) scale(0.91 1)" font-size="8.4" class="b" stroke="#111" stroke-width="0.2" text-anchor="end" fill="#111">10</text>
<text transform="translate(331.55 271.59) scale(0.91 1)" font-size="8.4" class="b" stroke="#111" stroke-width="0.2" text-anchor="end" fill="#111">0</text>
<text transform="translate(335.45 285.50) scale(0.91 1)" font-size="8.4" class="b" stroke="#111" stroke-width="0.2" text-anchor="middle" fill="#111">0</text>
<text transform="translate(360.27 285.50) scale(0.91 1)" font-size="8.4" class="b" stroke="#111" stroke-width="0.2" text-anchor="middle" fill="#111">10</text>
<text transform="translate(385.09 285.50) scale(0.91 1)" font-size="8.4" class="b" stroke="#111" stroke-width="0.2" text-anchor="middle" fill="#111">20</text>
<text transform="translate(409.91 285.50) scale(0.91 1)" font-size="8.4" class="b" stroke="#111" stroke-width="0.2" text-anchor="middle" fill="#111">30</text>
<text transform="translate(434.73 285.50) scale(0.91 1)" font-size="8.4" class="b" stroke="#111" stroke-width="0.2" text-anchor="middle" fill="#111">40</text>
<text transform="translate(459.55 285.50) scale(0.91 1)" font-size="8.4" class="b" stroke="#111" stroke-width="0.2" text-anchor="middle" fill="#111">50</text>
<text x="397.65" y="297.80" font-size="9" class="b" text-anchor="middle" fill="#111">FM DXA (%)</text>
<text transform="translate(359.80 191.80) scale(0.906 1)" font-size="10.5" fill="#222">r<tspan font-size="6.5" dy="2.0">s</tspan><tspan dx="1.0" dy="-2.0"> = -0.392; p = 0.002</tspan></text>
<text x="333.10" y="181.60" font-size="12.5" fill="#111">g</text>
<path d="M368.2 237.3L436.3 258.6" stroke="#111" stroke-width="0.95"/>
<circle cx="381.3" cy="206.2" r="1.8" fill="#b99a68"/>
<circle cx="381.3" cy="224.4" r="1.8" fill="#b99a68"/>
<circle cx="392.5" cy="234.5" r="1.8" fill="#b99a68"/>
<circle cx="399.0" cy="231.9" r="1.8" fill="#b99a68"/>
<circle cx="415.7" cy="229.2" r="1.8" fill="#b99a68"/>
<circle cx="417.2" cy="232.0" r="1.8" fill="#b99a68"/>
<circle cx="417.6" cy="234.3" r="1.8" fill="#b99a68"/>
<circle cx="425.2" cy="231.8" r="1.8" fill="#b99a68"/>
<circle cx="407.5" cy="239.7" r="1.8" fill="#b99a68"/>
<circle cx="422.6" cy="239.7" r="1.8" fill="#b99a68"/>
<circle cx="402.2" cy="242.0" r="1.8" fill="#b99a68"/>
<circle cx="404.6" cy="247.2" r="1.8" fill="#b99a68"/>
<circle cx="420.7" cy="247.3" r="1.8" fill="#b99a68"/>
<circle cx="410.5" cy="249.4" r="1.8" fill="#b99a68"/>
<circle cx="429.5" cy="249.5" r="1.8" fill="#b99a68"/>
<circle cx="429.5" cy="252.2" r="1.8" fill="#b99a68"/>
<circle cx="418.9" cy="252.2" r="1.8" fill="#b99a68"/>
<circle cx="424.8" cy="254.8" r="1.8" fill="#b99a68"/>
<circle cx="407.1" cy="257.5" r="1.8" fill="#b99a68"/>
<circle cx="424.9" cy="262.9" r="1.8" fill="#b99a68"/>
<circle cx="429.7" cy="262.9" r="1.8" fill="#b99a68"/>
<circle cx="431.4" cy="262.9" r="1.8" fill="#b99a68"/>
<circle cx="436.4" cy="262.9" r="1.8" fill="#b99a68"/>
<circle cx="401.5" cy="267.6" r="1.8" fill="#b99a68"/>
<circle cx="423.3" cy="267.6" r="1.8" fill="#b99a68"/>
<path d="M374.70 220.85L376.50 217.55L378.30 220.85ZM391.00 228.65L392.80 225.35L394.60 228.65ZM366.30 231.15L368.10 227.85L369.90 231.15ZM389.10 233.85L390.90 230.55L392.70 233.85ZM381.30 236.25L383.10 232.95L384.90 236.25ZM391.70 241.15L393.50 237.85L395.30 241.15ZM394.40 243.95L396.20 240.65L398.00 243.95ZM369.80 246.95L371.60 243.65L373.40 246.95ZM385.70 248.95L387.50 245.65L389.30 248.95ZM387.50 248.95L389.30 245.65L391.10 248.95ZM387.20 251.75L389.00 248.45L390.80 251.75ZM389.70 254.35L391.50 251.05L393.30 254.35ZM393.80 254.25L395.60 250.95L397.40 254.25ZM394.20 256.75L396.00 253.45L397.80 256.75ZM370.40 254.45L372.20 251.15L374.00 254.45ZM384.00 256.75L385.80 253.45L387.60 256.75ZM386.30 256.75L388.10 253.45L389.90 256.75ZM383.40 259.55L385.20 256.25L387.00 259.55ZM389.50 259.55L391.30 256.25L393.10 259.55ZM397.00 262.05L398.80 258.75L400.60 262.05ZM404.20 238.95L406.00 235.65L407.80 238.95ZM399.70 246.95L401.50 243.65L403.30 246.95ZM401.60 251.95L403.40 248.65L405.20 251.95ZM401.60 254.25L403.40 250.95L405.20 254.25ZM401.00 259.55L402.80 256.25L404.60 259.55ZM402.70 259.55L404.50 256.25L406.30 259.55ZM396.90 264.65L398.70 261.35L400.50 264.65ZM404.50 264.65L406.30 261.35L408.10 264.65ZM408.70 267.25L410.50 263.95L412.30 267.25ZM412.50 259.35L414.30 256.05L416.10 259.35ZM414.50 261.95L416.30 258.65L418.10 261.95ZM419.70 264.55L421.50 261.25L423.30 264.55Z" fill="#2452a8"/>
<path d="M490.45 190.95V276.5M490.45 273.2H614.55" stroke="#1a1a1a" stroke-width="1.1" fill="none"/>
<path d="M486.85 190.95H490.45M486.85 216.63H490.45M486.85 242.31H490.45M486.85 267.99H490.45M515.27 273.2V276.50M540.09 273.2V276.50M564.91 273.2V276.50M589.73 273.2V276.50M614.55 273.2V276.50" stroke="#1a1a1a" stroke-width="1.1" fill="none"/>
<text transform="translate(486.55 194.55) scale(0.91 1)" font-size="8.4" class="b" stroke="#111" stroke-width="0.2" text-anchor="end" fill="#111">30</text>
<text transform="translate(486.55 220.23) scale(0.91 1)" font-size="8.4" class="b" stroke="#111" stroke-width="0.2" text-anchor="end" fill="#111">20</text>
<text transform="translate(486.55 245.91) scale(0.91 1)" font-size="8.4" class="b" stroke="#111" stroke-width="0.2" text-anchor="end" fill="#111">10</text>
<text transform="translate(486.55 271.59) scale(0.91 1)" font-size="8.4" class="b" stroke="#111" stroke-width="0.2" text-anchor="end" fill="#111">0</text>
<text transform="translate(490.45 285.50) scale(0.91 1)" font-size="8.4" class="b" stroke="#111" stroke-width="0.2" text-anchor="middle" fill="#111">0</text>
<text transform="translate(515.27 285.50) scale(0.91 1)" font-size="8.4" class="b" stroke="#111" stroke-width="0.2" text-anchor="middle" fill="#111">10</text>
<text transform="translate(540.09 285.50) scale(0.91 1)" font-size="8.4" class="b" stroke="#111" stroke-width="0.2" text-anchor="middle" fill="#111">20</text>
<text transform="translate(564.91 285.50) scale(0.91 1)" font-size="8.4" class="b" stroke="#111" stroke-width="0.2" text-anchor="middle" fill="#111">30</text>
<text transform="translate(589.73 285.50) scale(0.91 1)" font-size="8.4" class="b" stroke="#111" stroke-width="0.2" text-anchor="middle" fill="#111">40</text>
<text transform="translate(614.55 285.50) scale(0.91 1)" font-size="8.4" class="b" stroke="#111" stroke-width="0.2" text-anchor="middle" fill="#111">50</text>
<text x="552.65" y="297.80" font-size="9" class="b" text-anchor="middle" fill="#111">FM DXA (%)</text>
<text transform="translate(515.00 191.80) scale(0.906 1)" font-size="10.5" fill="#222">r<tspan font-size="6.5" dy="2.0">s</tspan><tspan dx="1.0" dy="-2.0"> = -0.337; p = 0.008</tspan></text>
<text x="487.80" y="182.00" font-size="12.5" fill="#111">h</text>
<path d="M523.2 244.3L591.2 260.9" stroke="#111" stroke-width="0.95"/>
<circle cx="536.3" cy="224.3" r="1.8" fill="#b99a68"/>
<circle cx="536.3" cy="231.9" r="1.8" fill="#b99a68"/>
<circle cx="554.0" cy="242.3" r="1.8" fill="#b99a68"/>
<circle cx="547.5" cy="247.2" r="1.8" fill="#b99a68"/>
<circle cx="580.2" cy="234.3" r="1.8" fill="#b99a68"/>
<circle cx="562.6" cy="239.6" r="1.8" fill="#b99a68"/>
<circle cx="561.8" cy="242.1" r="1.8" fill="#b99a68"/>
<circle cx="572.6" cy="239.6" r="1.8" fill="#b99a68"/>
<circle cx="572.6" cy="242.1" r="1.8" fill="#b99a68"/>
<circle cx="559.9" cy="247.2" r="1.8" fill="#b99a68"/>
<circle cx="577.8" cy="247.2" r="1.8" fill="#b99a68"/>
<circle cx="570.7" cy="249.6" r="1.8" fill="#b99a68"/>
<circle cx="565.5" cy="252.3" r="1.8" fill="#b99a68"/>
<circle cx="584.5" cy="252.3" r="1.8" fill="#b99a68"/>
<circle cx="584.9" cy="255.0" r="1.8" fill="#b99a68"/>
<circle cx="557.0" cy="255.0" r="1.8" fill="#b99a68"/>
<circle cx="576.2" cy="257.6" r="1.8" fill="#b99a68"/>
<circle cx="579.9" cy="257.6" r="1.8" fill="#b99a68"/>
<circle cx="574.8" cy="260.0" r="1.8" fill="#b99a68"/>
<circle cx="580.5" cy="260.3" r="1.8" fill="#b99a68"/>
<circle cx="579.9" cy="265.3" r="1.8" fill="#b99a68"/>
<circle cx="585.2" cy="265.3" r="1.8" fill="#b99a68"/>
<circle cx="586.5" cy="265.3" r="1.8" fill="#b99a68"/>
<circle cx="556.6" cy="267.6" r="1.8" fill="#b99a68"/>
<circle cx="562.6" cy="267.6" r="1.8" fill="#b99a68"/>
<circle cx="578.5" cy="268.0" r="1.8" fill="#b99a68"/>
<circle cx="591.6" cy="267.6" r="1.8" fill="#b99a68"/>
<path d="M544.70 228.55L546.50 225.25L548.30 228.55ZM529.70 231.25L531.50 227.95L533.30 231.25ZM546.40 238.75L548.20 235.45L550.00 238.75ZM536.70 241.65L538.50 238.35L540.30 241.65ZM542.00 244.05L543.80 240.75L545.60 244.05ZM549.70 243.95L551.50 240.65L553.30 243.95ZM540.00 246.45L541.80 243.15L543.60 246.45ZM521.40 249.25L523.20 245.95L525.00 249.25ZM544.70 253.95L546.50 250.65L548.30 253.95ZM546.70 253.95L548.50 250.65L550.30 253.95ZM524.80 256.85L526.60 253.55L528.40 256.85ZM541.60 256.75L543.40 253.45L545.20 256.75ZM542.60 259.55L544.40 256.25L546.20 259.55ZM538.80 261.85L540.60 258.55L542.40 261.85ZM544.70 261.95L546.50 258.65L548.30 261.95ZM525.70 264.55L527.50 261.25L529.30 264.55ZM541.40 264.55L543.20 261.25L545.00 264.55ZM549.70 264.55L551.50 261.25L553.30 264.55ZM549.30 266.95L551.10 263.65L552.90 266.95ZM552.10 266.95L553.90 263.65L555.70 266.95ZM559.40 238.75L561.20 235.45L563.00 238.75ZM554.80 243.95L556.60 240.65L558.40 243.95ZM556.80 259.55L558.60 256.25L560.40 259.55ZM557.50 261.95L559.30 258.65L561.10 261.95ZM556.20 264.55L558.00 261.25L559.80 264.55ZM559.20 264.55L561.00 261.25L562.80 264.55ZM569.80 264.55L571.60 261.25L573.40 264.55ZM574.80 264.55L576.60 261.25L578.40 264.55ZM564.10 267.25L565.90 263.95L567.70 267.25ZM556.80 269.25L558.60 265.95L560.40 269.25ZM568.10 269.65L569.90 266.35L571.70 269.65Z" fill="#2452a8"/>
<path d="M629.00 146.50L631.70 141.30L634.40 146.50Z" fill="#2452a8"/>
<circle cx="631.7" cy="167.7" r="2.6" fill="#b99a68"/>
<text x="646.2" y="149.1" font-size="14" fill="#111">Young</text>
<text x="646.2" y="172.8" font-size="14" fill="#111">Old</text>
</svg></body></html>
